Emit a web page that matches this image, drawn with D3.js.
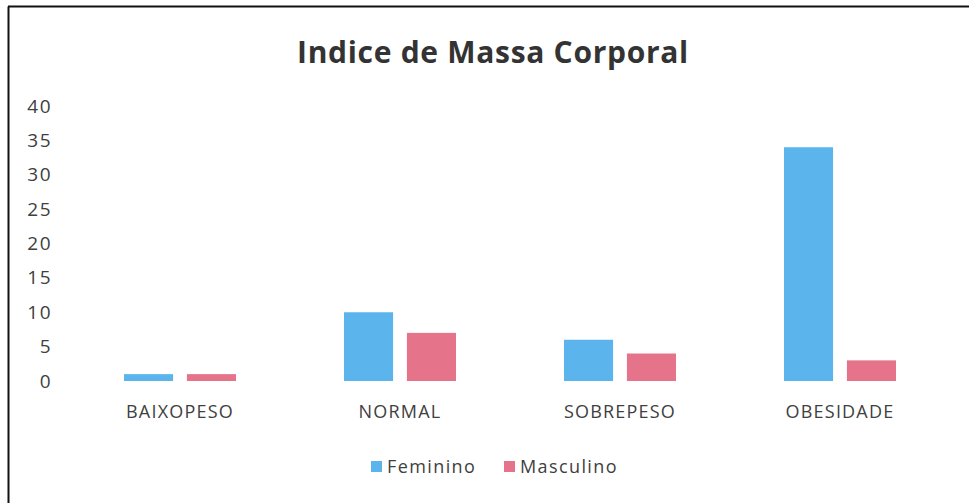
<!DOCTYPE html>
<html>
<head>
<meta charset="utf-8">
<script src="https://cdn.jsdelivr.net/npm/d3@7"></script>
<style>
  body { margin: 0; background: #fff; }
  text { font-family: "Open Sans", "Noto Sans", sans-serif; fill: #404040; }
</style>
</head>
<body>
<div id="chart"></div>
<script>
// chart data
var categories = ["BAIXOPESO", "NORMAL", "SOBREPESO", "OBESIDADE"];
var seriesNames = ["Feminino", "Masculino"];
var feminino = [1, 10, 6, 34];
var masculino = [1, 7, 4, 3];
var yTicks = [0, 5, 10, 15, 20, 25, 30, 35, 40];
var colors = ["#5bb5ec", "#e5738a"];

var width = 969, height = 503;
var margin = {top: 106, right: 19, bottom: 122, left: 70};
var graphWidth = width - margin.left - margin.right;
var graphHeight = height - margin.top - margin.bottom;

var svg = d3.select("#chart")
  .append("svg")
  .attr("width", width)
  .attr("height", height);

// frame lines
svg.append("line").attr("x1", 8.5).attr("y1", 6.5).attr("x2", 8.5).attr("y2", 503)
  .attr("stroke", "#111").attr("stroke-width", 2);
svg.append("line").attr("x1", 8).attr("y1", 6.5).attr("x2", 969).attr("y2", 6.5)
  .attr("stroke", "#111").attr("stroke-width", 2);

// title
svg.append("text")
  .attr("x", 493)
  .attr("y", 63)
  .attr("text-anchor", "middle")
  .style("font-size", "30px")
  .style("font-weight", "bold")
  .style("letter-spacing", "0.7px")
  .style("fill", "#333")
  .text("Indice de Massa Corporal");

var g = svg.append("g")
  .attr("transform", "translate(" + margin.left + "," + margin.top + ")");

var x0 = d3.scaleBand()
  .domain(categories)
  .range([0, graphWidth])
  .padding(0);

var x1 = d3.scaleBand()
  .domain(seriesNames)
  .range([x0.bandwidth() / 2 - 56, x0.bandwidth() / 2 + 56])
  .paddingInner(0.22);

var y = d3.scaleLinear()
  .domain([0, 40])
  .range([graphHeight, 0]);

// y axis labels
g.append("g")
  .attr("class", "y axis")
  .call(d3.axisLeft(y).tickValues(yTicks).tickSize(0).tickPadding(18))
  .call(function(a) { a.select(".domain").remove(); })
  .selectAll("text")
  .style("font-size", "19px")
  .style("letter-spacing", "1.5px")
  .style("fill", "#404040");

// x axis labels
g.append("g")
  .attr("class", "x axis")
  .attr("transform", "translate(0," + graphHeight + ")")
  .call(d3.axisBottom(x0).tickSize(0).tickPadding(24))
  .call(function(a) { a.select(".domain").remove(); })
  .selectAll("text")
  .style("font-size", "18px")
  .style("letter-spacing", "1.2px")
  .style("fill", "#404040");

var values = [feminino, masculino];

seriesNames.forEach(function(s, si) {
  g.selectAll(".bar" + si)
    .data(categories)
    .enter()
    .append("rect")
    .attr("class", "bar" + si)
    .attr("x", function(d) { return x0(d) + x1(s); })
    .attr("width", x1.bandwidth())
    .attr("y", function(d, i) { return y(values[si][i]); })
    .attr("height", function(d, i) { return graphHeight - y(values[si][i]); })
    .style("fill", colors[si]);
});

// legend
var legendX = [371, 504];
var legend = svg.append("g").attr("class", "legend");
seriesNames.forEach(function(s, i) {
  legend.append("rect")
    .attr("x", legendX[i])
    .attr("y", 461)
    .attr("width", 11)
    .attr("height", 11)
    .style("fill", colors[i]);
  legend.append("text")
    .attr("x", legendX[i] + 16)
    .attr("y", 473)
    .style("font-size", "18px")
    .style("letter-spacing", "1.4px")
    .text(s);
});
</script>
</body>
</html>
